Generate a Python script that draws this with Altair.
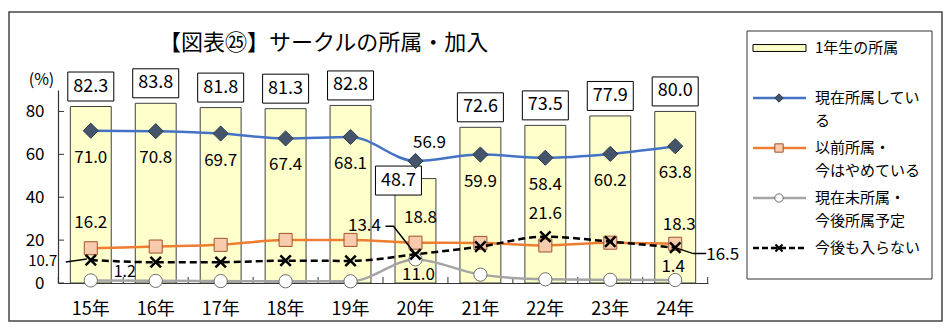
import altair as alt
import pandas as pd

# ---------------- data ----------------
years = ["15年", "16年", "17年", "18年", "19年", "20年", "21年", "22年", "23年", "24年"]
first_year = [82.3, 83.8, 81.8, 81.3, 82.8, 48.7, 72.6, 73.5, 77.9, 80.0]      # 1年生の所属 (bars)
belong_now = [71.0, 70.8, 69.7, 67.4, 68.1, 56.9, 59.9, 58.4, 60.2, 63.8]      # 現在所属している
quit_now = [16.2, 17.0, 17.8, 20.1, 20.1, 18.8, 18.7, 17.5, 18.8, 18.3]        # 以前所属・今はやめている
plan_join = [1.2, 1.0, 0.9, 0.8, 0.8, 11.0, 3.9, 1.7, 1.5, 1.4]                # 現在未所属・今後所属予定
never_join = [10.7, 9.7, 9.7, 10.4, 10.3, 13.4, 17.0, 21.6, 19.3, 16.5]        # 今後も入らない

series_names = ["1年生の所属", "現在所属している", "以前所属・今はやめている",
                "現在未所属・今後所属予定", "今後も入らない"]
legend_labels = ["1年生の所属", "現在所属してい\nる", "以前所属・\n今はやめている",
                 "現在未所属・\n今後所属予定", "今後も入らない"]
y_ticks = [0, 20, 40, 60, 80]
title_text = "【図表㉕】サークルの所属・加入"

FONT = "Noto Sans CJK JP"
W, H = 650, 193


def frame_of(vals):
    return pd.DataFrame({"year": years, "value": vals})


df_bar = frame_of(first_year)
df_blue = frame_of(belong_now)
df_orange = frame_of(quit_now)
df_grey = frame_of(plan_join)
df_black = frame_of(never_join)
one = pd.DataFrame({"k": [0]})

x_enc = alt.X("year:N", sort=years,
              scale=alt.Scale(paddingInner=0.37, paddingOuter=0.19),
              axis=alt.Axis(title=None, labelAngle=0, ticks=False, tickSize=0,
                            labelFontSize=18, labelFont=FONT, labelColor="black",
                            labelPadding=17, domainColor="#333333", domainWidth=1.2))
y_enc = alt.Y("value:Q", scale=alt.Scale(domain=[0, 90], nice=False),
              axis=alt.Axis(values=y_ticks, title="(%)", titleAngle=0, titleX=-17, titleY=-11,
                            titleAlign="center", titleBaseline="middle", titleFont=FONT,
                            titleFontSize=16, titleFontWeight="normal", titleColor="black",
                            grid=False, ticks=False, tickSize=0, labelPadding=14,
                            labelFontSize=17, labelFont=FONT, labelColor="black",
                            domainColor="#333333", domainWidth=1.2))

X_SHAPE = "M-1,-1L1,1M-1,1L1,-1"
BOX_SHAPE = "M-1,-0.63H1V0.63H-1Z"

styles = {
    "blue": dict(df=df_blue, line="#4472C4", shape="diamond", size=230, fill="#44546A",
                 stroke="#2E3A4A", filled=True, sw=1, dash=None),
    "orange": dict(df=df_orange, line="#ED7D31", shape="square", size=170, fill="#F8CBAD",
                   stroke="#A0522D", filled=True, sw=1, dash=None),
    "grey": dict(df=df_grey, line="#A5A5A5", shape="circle", size=175, fill="white",
                 stroke="#6E6E6E", filled=True, sw=1, dash=None),
    "black": dict(df=df_black, line="black", shape=X_SHAPE, size=110, fill="black",
                  stroke="black", filled=False, sw=2.5, dash=[7, 4]),
}

layers = []

# outer frame (transparent so the axes stay visible)
layers.append(alt.Chart(one).mark_rect(fillOpacity=0, stroke="#444444", strokeWidth=1.5).encode(
    x=alt.value(-49), x2=alt.value(884), y=alt.value(-78), y2=alt.value(231)))

# title
layers.append(alt.Chart(one).mark_text(text=title_text, align="left", baseline="middle",
                                       fontSize=22, font=FONT, color="black").encode(
    x=alt.value(101), y=alt.value(-47)))

# bars
layers.append(alt.Chart(df_bar).mark_bar(fill="#FFFFCC", stroke="#404040", strokeWidth=1).encode(
    x=x_enc, y=y_enc))

# x-axis boundary ticks (pointing inward)
half_step = W / (len(years) - 0.37 + 2 * 0.19) / 2
layers.append(alt.Chart(df_bar).mark_rule(color="#333333", strokeWidth=1, xOffset=-half_step).encode(
    x=x_enc, y=alt.value(H), y2=alt.value(H - 6)))
layers.append(alt.Chart(df_bar).transform_filter(alt.datum.year == years[-1]).mark_rule(
    color="#333333", strokeWidth=1, xOffset=half_step).encode(
    x=x_enc, y=alt.value(H), y2=alt.value(H - 6)))
# y-axis ticks (pointing inward)
layers.append(alt.Chart(pd.DataFrame({"value": y_ticks})).mark_rule(color="#333333", strokeWidth=1).encode(
    y=y_enc, x=alt.value(0), x2=alt.value(6)))

# boxed bar labels
box_kw = dict(shape=BOX_SHAPE, size=46 * 46, filled=True, fill="white", stroke="black",
              strokeWidth=1, opacity=1)
layers.append(alt.Chart(df_bar).transform_filter(alt.datum.year != "20年").mark_point(
    yOffset=-20, **box_kw).encode(x=x_enc, y=y_enc))
layers.append(alt.Chart(df_bar).transform_filter(alt.datum.year != "20年").mark_text(
    dy=-20, fontSize=18, font=FONT, color="black").encode(
    x=x_enc, y=y_enc, text=alt.Text("value:Q", format=".1f")))
layers.append(alt.Chart(df_bar).transform_filter(alt.datum.year == "20年").mark_point(
    xOffset=-17, yOffset=2, **box_kw).encode(x=x_enc, y=y_enc))
layers.append(alt.Chart(df_bar).transform_filter(alt.datum.year == "20年").mark_text(
    dx=-17, dy=2, fontSize=18, font=FONT, color="black").encode(
    x=x_enc, y=y_enc, text=alt.Text("value:Q", format=".1f")))

# lines + markers
for key in ["blue", "orange", "grey", "black"]:
    s = styles[key]
    line_kw = dict(color=s["line"], strokeWidth=2.5, interpolate="monotone")
    if s["dash"]:
        line_kw["strokeDash"] = s["dash"]
    layers.append(alt.Chart(s["df"]).mark_line(**line_kw).encode(x=x_enc, y=y_enc))
    pt_kw = dict(shape=s["shape"], size=s["size"], filled=s["filled"], stroke=s["stroke"],
                 strokeWidth=s["sw"], opacity=1)
    if s["filled"]:
        pt_kw["fill"] = s["fill"]
    layers.append(alt.Chart(s["df"]).mark_point(**pt_kw).encode(x=x_enc, y=y_enc))

# leader lines (shapes anchored on the marker, unit = 50 px)
leaders = [
    ("15年", "M-0.08,-0.02L-0.5,0.04"),
    ("20年", "M0,0L-0.44,-0.56L-0.6,-0.56"),
    ("24年", "M0,0L0.36,0.12L0.62,0.12"),
]
for yr, path in leaders:
    layers.append(alt.Chart(df_black).transform_filter(alt.datum.year == yr).mark_point(
        shape=path, size=10000, filled=False, stroke="black", strokeWidth=1.5, opacity=1).encode(
        x=x_enc, y=y_enc))


def label(df, yr, dx, dy, size=17, align="center"):
    return alt.Chart(df).transform_filter(alt.datum.year == yr).mark_text(
        dx=dx, dy=dy, fontSize=size, font=FONT, color="black", align=align).encode(
        x=x_enc, y=y_enc, text=alt.Text("value:Q", format=".1f"))


# blue labels
layers.append(alt.Chart(df_blue).transform_filter(alt.datum.year != "20年").mark_text(
    dy=27, fontSize=17, font=FONT, color="black").encode(
    x=x_enc, y=y_enc, text=alt.Text("value:Q", format=".1f")))
layers.append(label(df_blue, "20年", 14, -18))
# orange labels
layers.append(label(df_orange, "15年", 0, -25))
layers.append(label(df_orange, "20年", 5, -25))
layers.append(label(df_orange, "24年", 4, -19))
# black labels
layers.append(label(df_black, "15年", -48, 1, size=15))
layers.append(label(df_black, "20年", -51, -28))
layers.append(label(df_black, "22年", 0, -23))
layers.append(label(df_black, "24年", 31, 7, align="left"))
# grey labels
layers.append(label(df_grey, "15年", 34, -8, size=16))
layers.append(label(df_grey, "20年", 3, 16))
layers.append(label(df_grey, "24年", -2, -13))

main = alt.layer(*layers)

# ---------------- legend ----------------
leg_df = pd.DataFrame({"row": list(range(len(series_names))), "series": series_names,
                       "label": legend_labels})
ly = alt.Y("row:Q", scale=alt.Scale(domain=[0, 4], range=[-42, 158], nice=False, zero=False), axis=None)

leg_layers = [alt.Chart(one).mark_rect(fill="white", stroke="#333333", strokeWidth=1).encode(
    x=alt.value(689), x2=alt.value(874), y=alt.value(-59), y2=alt.value(189))]
leg_layers.append(alt.Chart(leg_df).transform_filter(alt.datum.row == 0).mark_point(
    shape="M-1,-0.13H1V0.13H-1Z", size=53 * 53, filled=True, fill="#FFFFCC", stroke="black",
    strokeWidth=1, opacity=1).encode(x=alt.value(721.5), y=ly))
leg_marker_sizes = {"blue": 70, "orange": 70, "grey": 70, "black": 50}
for i, key in enumerate(["blue", "orange", "grey", "black"], start=1):
    s = styles[key]
    rk = dict(color=s["line"], strokeWidth=2.5)
    if s["dash"]:
        rk["strokeDash"] = [6, 3]
    leg_layers.append(alt.Chart(leg_df).transform_filter(alt.datum.row == i).mark_rule(**rk).encode(
        x=alt.value(695), x2=alt.value(748), y=ly))
    pk = dict(shape=s["shape"], size=leg_marker_sizes[key], filled=s["filled"], stroke=s["stroke"],
              strokeWidth=1 if s["filled"] else 2, opacity=1)
    if s["filled"]:
        pk["fill"] = s["fill"]
    leg_layers.append(alt.Chart(leg_df).transform_filter(alt.datum.row == i).mark_point(**pk).encode(
        x=alt.value(721), y=ly))
leg_layers.append(alt.Chart(leg_df).mark_text(align="left", baseline="alphabetic", dy=5,
                                             lineBreak="\n", lineHeight=23, fontSize=15,
                                             font=FONT, color="black").encode(
    x=alt.value(757), y=ly, text="label:N"))
legend = alt.layer(*leg_layers)

chart = alt.layer(main, legend).resolve_scale(y="independent", x="independent").properties(
    width=W, height=H,
    autosize=alt.AutoSizeParams(type="none"),
    padding={"left": 58, "top": 90, "right": 950 - 58 - W, "bottom": 332 - 90 - H},
    background="white",
).configure_view(stroke=None)

chart.save("out.html", embed_options={"renderer": "svg", "actions": False})
